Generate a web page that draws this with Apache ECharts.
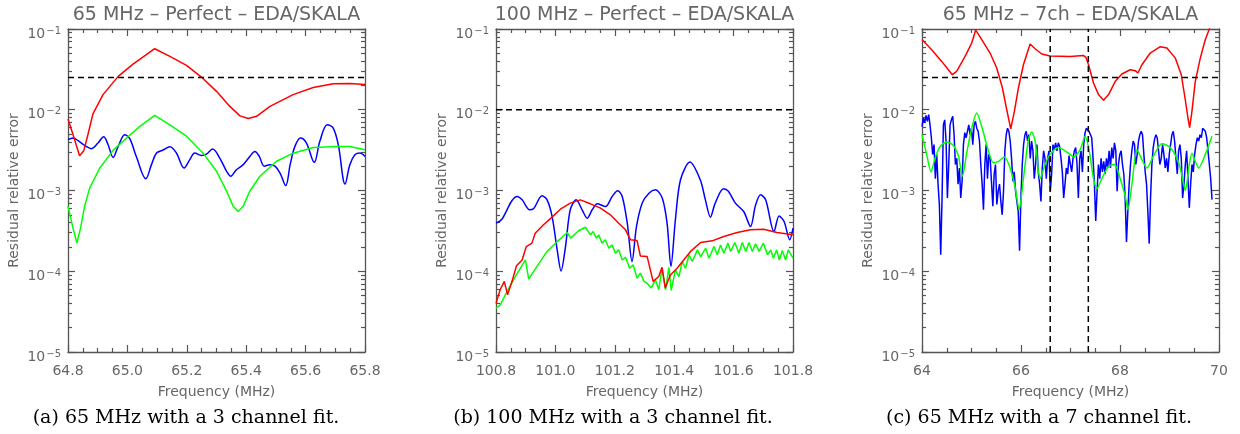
<!DOCTYPE html>
<html><head><meta charset="utf-8">
<script src="https://cdn.jsdelivr.net/npm/echarts@6/dist/echarts.min.js"></script>
<style>html,body{margin:0;padding:0;background:#fff}#c{width:1240px;height:434px}</style>
</head><body><div id="c"></div>
<script>
// ---------- tick labels / texts ----------
const yMajorTicks = [1e-5, 1e-4, 1e-3, 1e-2, 1e-1];
const yMinorTicks = [2e-5,3e-5,4e-5,5e-5,6e-5,7e-5,8e-5,9e-5,
  2e-4,3e-4,4e-4,5e-4,6e-4,7e-4,8e-4,9e-4,
  2e-3,3e-3,4e-3,5e-3,6e-3,7e-3,8e-3,9e-3,
  2e-2,3e-2,4e-2,5e-2,6e-2,7e-2,8e-2,9e-2];
const panelTitles = ['65 MHz – Perfect – EDA/SKALA', '100 MHz – Perfect – EDA/SKALA', '65 MHz – 7ch – EDA/SKALA'];
const captions = ['(a) 65 MHz with a 3 channel fit.', '(b) 100 MHz with a 3 channel fit.', '(c) 65 MHz with a 7 channel fit.'];
const xMin = [64.8, 100.8, 64];
const xMax = [65.8, 101.8, 70];
const xStep = [0.2, 0.2, 2];
const xDecimals = [1, 1, 0];
const xName = 'Frequency (MHz)';
const yName = 'Residual relative error';
const thresholds = [0.025, 0.01, 0.025];
const channelEdgesC = [66.59, 67.36];

// ---------- panel (a) ----------
const redA = [[64.8,0.0077],[64.817,0.0049],[64.839,0.0027],[64.853,0.0031],[64.867,0.0049],[64.884,0.0089],
 [64.918,0.0154],[64.969,0.0259],[65.019,0.0368],[65.092,0.057],[65.143,0.0458],[65.199,0.0355],[65.249,0.0254],
 [65.3,0.0169],[65.345,0.011],[65.379,0.0084],[65.407,0.0078],[65.435,0.0083],[65.48,0.011],[65.558,0.0154],
 [65.626,0.0189],[65.693,0.021],[65.749,0.0212],[65.8,0.0206]];
const greenA = [[64.8,0.00064],[64.817,0.00034],[64.83,0.000224],[64.842,0.00034],[64.856,0.00064],[64.873,0.00107],
 [64.907,0.0019],[64.952,0.00314],[64.997,0.00447],[65.042,0.00622],[65.092,0.0085],[65.143,0.0065],[65.199,0.0047],
 [65.255,0.0029],[65.3,0.00173],[65.334,0.00098],[65.356,0.00064],[65.373,0.00055],[65.39,0.00064],[65.412,0.00098],
 [65.446,0.0015],[65.502,0.0023],[65.558,0.0029],[65.626,0.0034],[65.704,0.0035],[65.749,0.0035],[65.8,0.0032]];
const blueA = [[64.8,0.00426],[64.817,0.00447],[64.834,0.00414],[64.856,0.00363],[64.879,0.0033],[64.901,0.00387],
 [64.92,0.00463],[64.935,0.00369],[64.952,0.00257],[64.969,0.00352],[64.991,0.00491],[65.008,0.00438],[65.03,0.00263],
 [65.062,0.0014],[65.081,0.00209],[65.098,0.00291],[65.12,0.00317],[65.143,0.00348],[65.165,0.00291],[65.191,0.0019],
 [65.21,0.00241],[65.227,0.00291],[65.249,0.00272],[65.266,0.00282],[65.287,0.00327],[65.311,0.00252],[65.334,0.00173],
 [65.348,0.0015],[65.367,0.00181],[65.39,0.00209],[65.412,0.00263],[65.429,0.00305],[65.444,0.00265],[65.461,0.002],
 [65.48,0.00209],[65.497,0.002],[65.514,0.00164],[65.533,0.00115],[65.548,0.00209],[65.564,0.00352],[65.583,0.00447],
 [65.603,0.00387],[65.629,0.00223],[65.648,0.00406],[65.673,0.00653],[65.693,0.00593],[65.71,0.00369],[65.733,0.0012],
 [65.749,0.00209],[65.766,0.00277],[65.783,0.00291],[65.8,0.00264]];

// ---------- panel (b) ----------
const redB = [[100.8,4.0e-5],[100.814,5.9e-5],[100.828,7.5e-5],[100.839,5.1e-5],[100.854,7.5e-5],[100.869,1.17e-4],
 [100.888,1.38e-4],[100.902,2.02e-4],[100.921,2.23e-4],[100.932,2.96e-4],[100.96,3.76e-4],[100.989,4.68e-4],
 [101.017,5.87e-4],[101.05,6.97e-4],[101.084,7.66e-4],[101.118,6.84e-4],[101.152,6.04e-4],[101.185,5.0e-4],
 [101.213,3.94e-4],[101.236,3.26e-4],[101.253,2.45e-4],[101.275,2.4e-4],[101.286,1.55e-4],[101.309,1.52e-4],
 [101.329,7.5e-5],[101.348,8.6e-5],[101.359,1.12e-4],[101.37,6.2e-5],[101.387,9.0e-5],[101.41,1.09e-4],
 [101.432,1.38e-4],[101.455,1.76e-4],[101.489,2.27e-4],[101.528,2.38e-4],[101.567,2.69e-4],[101.612,3.02e-4],
 [101.657,3.26e-4],[101.701,3.32e-4],[101.746,3.02e-4],[101.8,2.83e-4]];
const greenB = [[100.8,3.5e-5],[100.814,3.8e-5],[100.837,5.6e-5],[100.865,8.6e-5],[100.899,1.38e-4],[100.91,8.0e-5],
 [100.938,1.15e-4],[100.972,1.76e-4],[101.006,2.33e-4],[101.04,3.02e-4],[101.051,2.57e-4],[101.079,3.2e-4],[101.101,3.51e-4],
 [101.118,2.82e-4],[101.127,3.1e-4],[101.138,2.57e-4],[101.146,2.82e-4],[101.157,2.23e-4],[101.168,2.45e-4],
 [101.18,1.93e-4],[101.191,2.12e-4],[101.202,1.67e-4],[101.213,1.84e-4],[101.225,1.38e-4],[101.236,1.49e-4],
 [101.25,1.09e-4],[101.262,1.2e-4],[101.275,8.2e-5],[101.286,9.5e-5],[101.298,7.5e-5],[101.309,7.1e-5],
 [101.322,6.2e-5],[101.337,7.8e-5],[101.348,5.9e-5],[101.359,1.09e-4],[101.371,5.9e-5],[101.382,1.12e-4],
 [101.39,5.8e-5],[101.404,1.04e-4],[101.416,8.6e-5],[101.427,1.32e-4],[101.438,1.09e-4],[101.45,1.6e-4],
 [101.461,1.32e-4],[101.478,1.84e-4],[101.489,1.52e-4],[101.506,1.93e-4],[101.517,1.45e-4],[101.534,2.03e-4],
 [101.545,1.6e-4],[101.556,2.12e-4],[101.567,1.67e-4],[101.581,2.23e-4],[101.59,1.76e-4],[101.604,2.27e-4],
 [101.618,1.67e-4],[101.629,2.27e-4],[101.641,1.76e-4],[101.652,2.27e-4],[101.663,1.76e-4],[101.674,2.19e-4],
 [101.686,1.76e-4],[101.7,2.23e-4],[101.714,1.6e-4],[101.725,1.84e-4],[101.734,1.45e-4],[101.745,1.84e-4],
 [101.754,1.38e-4],[101.764,1.81e-4],[101.775,1.38e-4],[101.784,1.84e-4],[101.8,1.45e-4]];
const blueB = [[100.8,3.94e-4],[100.82,4.41e-4],[100.837,5.77e-4],[100.854,7.52e-4],[100.871,8.43e-4],[100.888,7.66e-4],
 [100.913,5.77e-4],[100.927,6.0e-4],[100.955,8.59e-4],[100.972,7.66e-4],[100.989,4.76e-4],[101.006,1.84e-4],
 [101.019,1.01e-4],[101.034,2.02e-4],[101.05,5.77e-4],[101.07,7.66e-4],[101.09,5.77e-4],[101.107,4.54e-4],
 [101.124,5.77e-4],[101.141,6.84e-4],[101.169,6.34e-4],[101.191,8.43e-4],[101.21,9.9e-4],[101.225,8.43e-4],
 [101.242,3.94e-4],[101.258,1.32e-4],[101.273,3.58e-4],[101.292,6.97e-4],[101.315,9.27e-4],[101.337,1.02e-3],
 [101.36,8.03e-4],[101.376,3.94e-4],[101.389,1.15e-4],[101.404,4.34e-4],[101.421,1.35e-3],[101.453,2.25e-3],
 [101.488,1.35e-3],[101.505,7.66e-4],[101.522,4.68e-4],[101.538,6.97e-4],[101.566,1.05e-3],[101.583,9.72e-4],
 [101.606,6.97e-4],[101.634,5.49e-4],[101.657,3.58e-4],[101.674,6.6e-4],[101.691,8.83e-4],[101.708,7.66e-4],
 [101.736,3.1e-4],[101.753,4.85e-4],[101.77,4.13e-4],[101.789,2.45e-4],[101.8,3.42e-4]];

// ---------- panel (c) ----------
const redC = [[64.0,0.074],[64.195,0.0555],[64.398,0.0397],[64.533,0.0313],[64.613,0.0272],[64.7,0.0299],[64.87,0.0458],
 [65.004,0.067],[65.085,0.097],[65.207,0.074],[65.375,0.0504],[65.51,0.0329],[65.625,0.0186],[65.712,0.01],[65.793,0.0058],
 [65.867,0.0096],[65.948,0.0186],[66.049,0.0361],[66.184,0.0651],[66.285,0.057],[66.42,0.049],[66.588,0.0462],
 [66.993,0.0458],[67.262,0.0471],[67.31,0.0446],[67.364,0.0361],[67.465,0.0214],[67.566,0.0154],[67.668,0.0131],
 [67.769,0.0154],[67.904,0.0225],[68.039,0.0277],[68.207,0.0313],[68.308,0.0305],[68.362,0.0285],[68.443,0.0361],
 [68.611,0.0504],[68.813,0.0604],[68.948,0.0581],[69.117,0.0436],[69.238,0.0272],[69.319,0.0133],[69.373,0.0079],
 [69.407,0.006],[69.454,0.0096],[69.521,0.0225],[69.622,0.0436],[69.723,0.0737],[69.804,0.1],[69.87,0.13]];
const greenC = [[64.0,0.0049],[64.094,0.0028],[64.182,0.0017],[64.263,0.0025],[64.364,0.0035],[64.499,0.004],[64.634,0.0036],
 [64.735,0.0027],[64.816,0.0015],[64.903,0.0029],[65.004,0.0059],[65.105,0.0091],[65.207,0.0062],[65.341,0.0031],
 [65.443,0.0022],[65.544,0.0023],[65.665,0.0026],[65.78,0.0019],[65.881,0.0011],[65.962,0.00058],[66.049,0.0014],
 [66.15,0.0043],[66.218,0.0053],[66.285,0.0041],[66.386,0.0014],[66.487,0.0021],[66.588,0.0028],[66.757,0.0034],
 [66.959,0.0029],[67.06,0.0026],[67.195,0.0032],[67.297,0.0047],[67.378,0.0031],[67.465,0.0014],[67.532,0.00105],
 [67.634,0.0014],[67.769,0.002],[67.89,0.0021],[68.004,0.0014],[68.106,0.00085],[68.16,0.00058],[68.241,0.0012],
 [68.342,0.0032],[68.43,0.0025],[68.544,0.0019],[68.679,0.0027],[68.847,0.0038],[69.016,0.0034],[69.185,0.0022],
 [69.286,0.0012],[69.319,0.001],[69.4,0.0021],[69.454,0.0029],[69.521,0.0023],[69.589,0.0019],[69.723,0.0028],[69.858,0.0047]];
const blueCFreq = [
 64.000,64.027,64.054,64.081,64.108,64.135,64.162,64.189,64.216,64.243,
 64.270,64.297,64.324,64.351,64.378,64.405,64.432,64.459,64.486,64.513,
 64.540,64.567,64.594,64.621,64.648,64.675,64.702,64.729,64.756,64.783,
 64.810,64.837,64.864,64.891,64.918,64.945,64.972,64.999,65.026,65.053,
 65.080,65.107,65.134,65.161,65.188,65.215,65.242,65.269,65.296,65.323,
 65.350,65.377,65.404,65.431,65.458,65.485,65.512,65.539,65.566,65.593,
 65.620,65.647,65.674,65.701,65.728,65.755,65.782,65.809,65.836,65.863,
 65.890,65.917,65.944,65.971,65.998,66.025,66.052,66.079,66.106,66.133,
 66.160,66.187,66.214,66.241,66.268,66.295,66.322,66.349,66.376,66.403,
 66.430,66.457,66.484,66.511,66.538,66.565,66.592,66.619,66.646,66.673,
 66.700,66.727,66.754,66.781,66.808,66.835,66.862,66.889,66.916,66.943,
 66.970,66.997,67.024,67.051,67.078,67.105,67.132,67.159,67.186,67.213,
 67.240,67.267,67.294,67.321,67.348,67.375,67.402,67.429,67.456,67.483,
 67.510,67.537,67.564,67.591,67.618,67.645,67.672,67.699,67.726,67.753,
 67.780,67.807,67.834,67.861,67.888,67.915,67.942,67.969,67.996,68.023,
 68.050,68.077,68.104,68.131,68.158,68.185,68.212,68.239,68.266,68.293,
 68.320,68.347,68.374,68.401,68.428,68.455,68.482,68.509,68.536,68.563,
 68.590,68.617,68.644,68.671,68.698,68.725,68.752,68.779,68.806,68.833,
 68.860,68.887,68.914,68.941,68.968,68.995,69.022,69.049,69.076,69.103,
 69.130,69.157,69.184,69.211,69.238,69.265,69.292,69.319,69.346,69.373,
 69.400,69.427,69.454,69.481,69.508,69.535,69.562,69.589,69.616,69.643,
 69.670,69.697,69.724,69.751,69.778,69.805,69.832,69.859];
const blueCVal = [
 0.0062,0.0079,0.0069,0.0085,0.0072,0.0087,0.0065,0.0045,0.0028,0.0037,
 0.0014,0.0028,0.0012,0.00067,0.00016,0.00081,0.0065,0.0075,0.0041,0.00081,
 0.0021,0.0065,0.0075,0.0083,0.0049,0.0021,0.0025,0.0012,0.0019,0.00081,
 0.0013,0.0037,0.0052,0.0045,0.0054,0.0065,0.0049,0.0059,0.0037,0.0065,
 0.0072,0.0059,0.0054,0.0041,0.0021,0.0012,0.00058,0.0021,0.0037,0.0014,
 0.0028,0.0025,0.0025,0.00064,0.0016,0.0021,0.00067,0.00098,0.0012,0.00073,
 0.0005,0.00098,0.0031,0.0049,0.0059,0.0054,0.0041,0.0025,0.0013,0.0017,
 0.00098,0.00073,0.00055,0.00018,0.00081,0.0021,0.0037,0.0049,0.0054,0.0041,
 0.0049,0.0025,0.0041,0.0031,0.0014,0.0021,0.0037,0.0017,0.0012,0.00073,
 0.0019,0.0031,0.0025,0.0014,0.0025,0.0031,0.00098,0.0016,0.0037,0.0032,
 0.0039,0.0031,0.0039,0.0035,0.0025,0.0017,0.00081,0.0012,0.0019,0.0016,
 0.0027,0.0021,0.0017,0.0025,0.0031,0.0034,0.0021,0.00081,0.0025,0.0031,
 0.0017,0.0037,0.0052,0.0059,0.0062,0.0054,0.0057,0.0045,0.0025,0.0012,
 0.00042,0.00098,0.0021,0.0014,0.0025,0.0017,0.0023,0.0016,0.0025,0.0019,
 0.0031,0.0019,0.0034,0.0025,0.0039,0.0031,0.00098,0.0021,0.0028,0.0031,
 0.0021,0.0016,0.00081,0.00023,0.00055,0.0012,0.0021,0.0031,0.0041,0.0037,
 0.0021,0.0028,0.0041,0.0049,0.0054,0.0049,0.0028,0.0017,0.0012,0.00055,
 0.00022,0.00081,0.0021,0.0034,0.0043,0.0049,0.0045,0.0031,0.0021,0.0025,
 0.0037,0.0028,0.0019,0.0025,0.0017,0.0028,0.0037,0.0049,0.0054,0.0041,
 0.0025,0.0016,0.0031,0.0037,0.0025,0.00081,0.0012,0.0021,0.0031,0.0014,
 0.00061,0.0012,0.0021,0.0017,0.0028,0.0037,0.0045,0.0041,0.0049,0.0045,
 0.0059,0.0062,0.0054,0.0045,0.0031,0.0021,0.0014,0.00077];
const blueC = blueCFreq.map((f, i) => [f, blueCVal[i]]);

// ---------- layout / style ----------
const gridLeft = [68, 496, 922];
const gridTop = 29, gridW = 297, gridH = 323;
const axisColor = '#555';
const textColor = '#666';
const font = 'DejaVu Sans';

const chart = echarts.init(document.getElementById('c'), null, {renderer: 'canvas'});

const grids = [], xAxes = [], yAxes = [], series = [], graphics = [];
for (let g = 0; g < 3; g++) {
  grids.push({left: gridLeft[g], top: gridTop, width: gridW, height: gridH, outerBoundsMode: 'none', containLabel: false});
  const xCommon = {type: 'value', gridIndex: g, min: xMin[g], max: xMax[g], interval: xStep[g],
    axisLine: {show: true, lineStyle: {color: axisColor, width: 1.3}},
    axisTick: {show: true, inside: true, length: 7, lineStyle: {color: axisColor, width: 1.2}},
    minorTick: {show: true, splitNumber: 4, length: 4, lineStyle: {color: axisColor, width: 1.2}},
    splitLine: {show: false}, minorSplitLine: {show: false}};
  xAxes.push(Object.assign({}, xCommon, {position: 'bottom', name: xName, nameLocation: 'middle', nameGap: 33,
    nameTextStyle: {color: textColor, fontFamily: font, fontSize: 14},
    axisLabel: {show: true, margin: 12, color: textColor, fontFamily: font, fontSize: 14,
      formatter: v => v.toFixed(xDecimals[g])}}));
  xAxes.push(Object.assign({}, xCommon, {position: 'top', axisLabel: {show: false}}));
  const yBase = {type: 'log', logBase: 10, gridIndex: g, min: 1e-5, max: 1e-1, splitLine: {show: false}};
  yAxes.push(Object.assign({}, yBase, {position: 'left', name: yName, nameLocation: 'middle', nameGap: 47,
    nameTextStyle: {color: textColor, fontFamily: font, fontSize: 14},
    axisLine: {show: true, lineStyle: {color: axisColor, width: 1.3}},
    axisTick: {show: true, inside: true, length: 7, customValues: yMajorTicks, lineStyle: {color: axisColor, width: 1.2}},
    axisLabel: {show: true, margin: 7, customValues: yMajorTicks, padding: [9, 0, 0, 0],
      formatter: v => '{b|10}{s|−' + (-Math.round(Math.log10(v))) + '}',
      rich: {b: {fontFamily: font, fontSize: 14, color: textColor, lineHeight: 15, verticalAlign: 'bottom'},
             s: {fontFamily: font, fontSize: 10, color: textColor, lineHeight: 15, verticalAlign: 'top', padding: [0,0,0,1]}}}}));
  yAxes.push(Object.assign({}, yBase, {position: 'left', axisLine: {show: false}, axisLabel: {show: false},
    axisTick: {show: true, inside: true, length: 4, customValues: yMinorTicks, lineStyle: {color: axisColor, width: 1.2}}}));
  yAxes.push(Object.assign({}, yBase, {position: 'right', axisLine: {show: true, lineStyle: {color: axisColor, width: 1.3}},
    axisLabel: {show: false},
    axisTick: {show: true, inside: true, length: 7, customValues: yMajorTicks, lineStyle: {color: axisColor, width: 1.2}}}));
  yAxes.push(Object.assign({}, yBase, {position: 'right', axisLine: {show: false}, axisLabel: {show: false},
    axisTick: {show: true, inside: true, length: 4, customValues: yMinorTicks, lineStyle: {color: axisColor, width: 1.2}}}));

  const cx = gridLeft[g] + gridW / 2;
  graphics.push({type: 'text', x: cx, y: 15, style: {text: panelTitles[g], fill: textColor,
    font: '19px "DejaVu Sans"', align: 'center', verticalAlign: 'middle'}});
}
const capX = [186, 613, 1039];
for (let g = 0; g < 3; g++) {
  graphics.push({type: 'text', x: capX[g], y: 418, style: {text: captions[g], fill: '#000',
    font: '19px "DejaVu Serif"', align: 'center', verticalAlign: 'middle'}});
}

function line(g, data, color, smooth, z) {
  return {type: 'line', xAxisIndex: 2 * g, yAxisIndex: 4 * g, data: data, symbol: 'none', showSymbol: false,
    smooth: smooth, lineStyle: {color: color, width: 1.5}, itemStyle: {color: color}, z: z, animation: false, silent: true};
}
function dashLine(g, data) {
  return {type: 'line', xAxisIndex: 2 * g, yAxisIndex: 4 * g, data: data, symbol: 'none', showSymbol: false,
    lineStyle: {color: '#000', width: 1.5, type: [6, 4]}, z: 5, animation: false, silent: true};
}
series.push(line(0, blueA, '#0000ff', 0.35, 2));
series.push(line(0, greenA, '#00ff00', false, 3));
series.push(line(0, redA, '#ff0000', false, 4));
series.push(line(1, blueB, '#0000ff', 0.3, 2));
series.push(line(1, greenB, '#00ff00', false, 3));
series.push(line(1, redB, '#ff0000', false, 4));
series.push(line(2, blueC, '#0000ff', false, 2));
series.push(line(2, greenC, '#00ff00', 0.25, 3));
series.push(line(2, redC, '#ff0000', false, 4));
for (let g = 0; g < 3; g++) {
  series.push(dashLine(g, [[xMin[g], thresholds[g]], [xMax[g], thresholds[g]]]));
}
channelEdgesC.forEach(v => series.push(dashLine(2, [[v, 1e-5], [v, 1e-1]])));

chart.setOption({animation: false, backgroundColor: '#fff', grid: grids, xAxis: xAxes, yAxis: yAxes, series: series, graphic: graphics});
</script></body></html>
